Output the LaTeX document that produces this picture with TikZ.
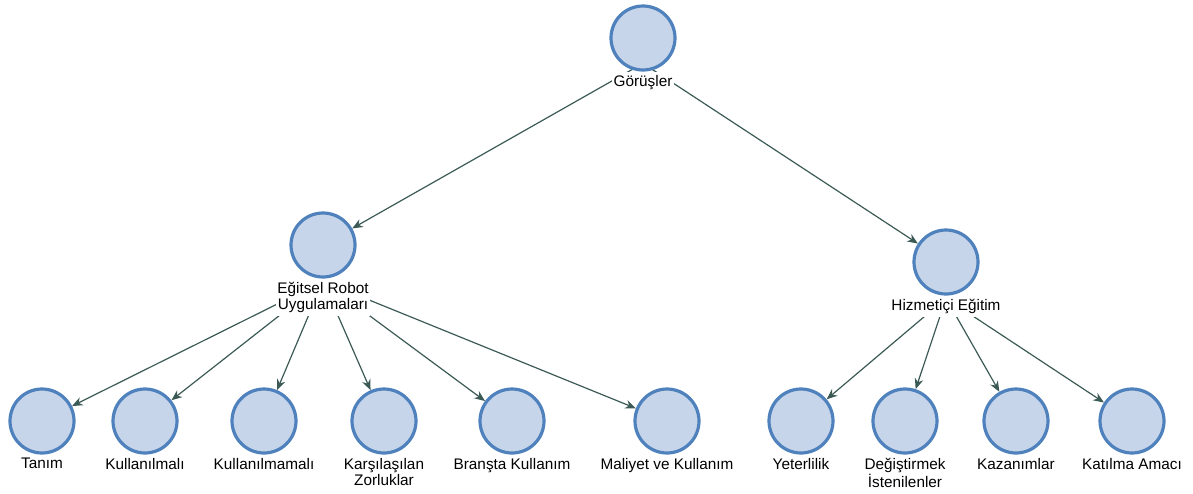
\documentclass[tikz,border=0pt]{standalone}
\usepackage{fontspec}
\setmainfont{Liberation Sans}
\usetikzlibrary{positioning}
\usetikzlibrary{arrows.meta}

\definecolor{nodefill}{HTML}{C6D5EA}
\definecolor{nodeline}{HTML}{4F81BD}
\definecolor{edgecol}{HTML}{3B5A55}
\pgfdeclarelayer{bg}
\pgfsetlayers{bg,main}

\tikzset{
  topic/.style={circle, draw=nodeline, fill=nodefill, line width=2.4pt,
    minimum size=48pt, inner sep=0pt},
  caption/.style={fill=white, inner xsep=1pt, inner ysep=2.6pt, align=center,
    font=\fontsize{11.5}{12}\selectfont},
  link/.style={draw=edgecol, line width=0.9pt,
    -{Stealth[length=8pt,width=6.5pt]}},
}

\begin{document}
\begin{tikzpicture}[x=0.75pt,y=-0.75pt]
\useasboundingbox (0,0) rectangle (1193,493);
% Define nodes
% Top node
\node[topic] (gorus) at (643,38) {};
\node[caption, below=0pt of gorus] (gorus-l) {Görüşler};

% Middle nodes
\node[topic] (egitsel) at (323,245) {};
\node[caption, below=0pt of egitsel] (egitsel-l) {Eğitsel Robot\\Uygulamaları};
\node[topic] (hizmet) at (946,262) {};
\node[caption, below=0pt of hizmet] (hizmet-l) {Hizmetiçi Eğitim};

% Bottom nodes
\node[topic] (tanim) at (42,421) {};
\node[caption, below=0pt of tanim] (tanim-l) {Tanım};
\node[topic] (kullan) at (145,421) {};
\node[caption, below=0pt of kullan] (kullan-l) {Kullanılmalı};
\node[topic] (kullanma) at (264,421) {};
\node[caption, below=0pt of kullanma] (kullanma-l) {Kullanılmamalı};
\node[topic] (zorluk) at (384,421) {};
\node[caption, below=0pt of zorluk] (zorluk-l) {Karşılaşılan\\Zorluklar};
\node[topic] (brans) at (512,421) {};
\node[caption, below=0pt of brans] (brans-l) {Branşta Kullanım};
\node[topic] (maliyet) at (667,421) {};
\node[caption, below=0pt of maliyet] (maliyet-l) {Maliyet ve Kullanım};
\node[topic] (yeter) at (801,421) {};
\node[caption, below=0pt of yeter] (yeter-l) {Yeterlilik};
\node[topic] (degis) at (905,421) {};
\node[caption, below=0pt of degis] (degis-l) {Değiştirmek\\İstenilenler};
\node[topic] (kazan) at (1016,421) {};
\node[caption, below=0pt of kazan] (kazan-l) {Kazanımlar};
\node[topic] (katil) at (1132,421) {};
\node[caption, below=0pt of katil] (katil-l) {Katılma Amacı};

% Edge origins
\coordinate (gorus-c) at ([yshift=-19pt]gorus.center);
\coordinate (egitsel-c) at ([yshift=-2pt]egitsel-l.north);
\coordinate (hizmet-c) at ([yshift=-2pt]hizmet-l.north);

% Edges
\begin{pgfonlayer}{bg}
\draw[link] (gorus-c) -- (egitsel);
\draw[link] (gorus-c) -- (hizmet);
\foreach \t in {tanim,kullan,kullanma,zorluk,brans,maliyet}
  \draw[link] (egitsel-c) -- (\t);
\foreach \t in {yeter,degis,kazan,katil}
  \draw[link] (hizmet-c) -- (\t);
\end{pgfonlayer}
\end{tikzpicture}
\end{document}
